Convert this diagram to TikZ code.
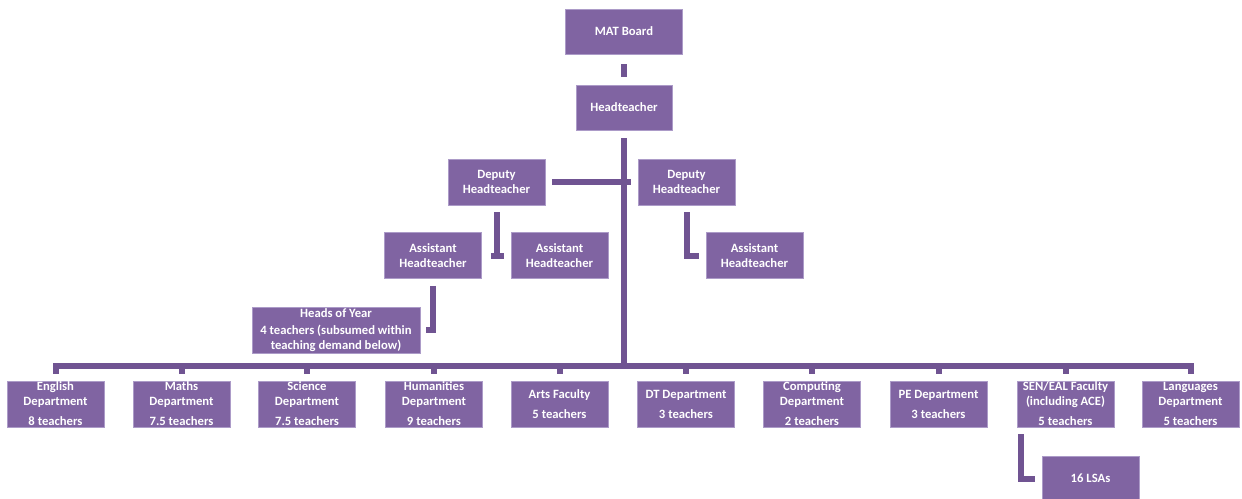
\documentclass[tikz,border=0pt]{standalone}
\usepackage{fontspec}
\setmainfont{Carlito}
\definecolor{boxfill}{RGB}{128,100,162}
\definecolor{boxline}{RGB}{172,155,200}
\definecolor{linkcol}{RGB}{112,84,146}
\begin{document}
\begin{tikzpicture}[x=0.75pt,y=-0.75pt,
  box/.style={rectangle, fill=boxfill, draw=boxline, line width=0.4pt, text=white,
    font=\fontsize{9.5}{11.25}\selectfont\bfseries, align=center, inner sep=0pt,
    minimum width=73pt, minimum height=34.5pt},
  link/.style={draw=linkcol, line width=4.5pt}]
\useasboundingbox (0,0) rectangle (1242,499);
\clip (0,0) rectangle (1242,499);
% top of the tree
\node[box, minimum width=87.75pt, minimum height=33.75pt] (mat) at (624,31.5){MAT Board};
\node[box, minimum width=72pt, minimum height=33.75pt] (head) at (624,107.5){Headteacher};
\draw[link, shorten <=7.5pt, shorten >=6pt](mat) -- (head);
\node[box] (depL) at (496.5,182){Deputy\\Headteacher};
\node[box] (depR) at (686.5,182){Deputy\\Headteacher};
\node[box] (asstA) at (433,255.5){Assistant\\Headteacher};
\node[box] (asstB) at (559.5,255.5){Assistant\\Headteacher};
\node[box] (asstC) at (754.5,255.5){Assistant\\Headteacher};
\node[box, minimum width=126pt] (hoy) at (336,330){Heads of Year\\[2pt]4 teachers (subsumed within\\teaching demand below)};
\draw[link]([xshift=5.25pt]depL.east) -- ([xshift=-5.25pt]depR.west);
\draw[link]([yshift=-5.25pt]depL.south) -- (depL.south |- asstA.east);
\draw[link]([xshift=6.75pt]asstA.east) -- ([xshift=-5.25pt]asstB.west);
\draw[link]([yshift=-5.25pt]depR.south) |- ([xshift=-5.25pt]asstC.west);
\draw[link]([yshift=-5.25pt]asstA.south) |- ([xshift=4.5pt]hoy.east);
% departments
\node[box] (eng) at (55.5,404){English\\Department\\[3.75pt]8 teachers};
\node[box] (maths) at (181.5,404){Maths\\Department\\[3.75pt]7.5 teachers};
\node[box] (sci) at (307,404){Science\\Department\\[3.75pt]7.5 teachers};
\node[box] (hum) at (434,404){Humanities\\Department\\[3.75pt]9 teachers};
\node[box] (arts) at (559.5,404){Arts Faculty\\[3.75pt]5 teachers};
\node[box] (dt) at (686,404){DT Department\\[3.75pt]3 teachers};
\node[box] (comp) at (812,404){Computing\\Department\\[3.75pt]2 teachers};
\node[box] (pe) at (938.5,404){PE Department\\[3.75pt]3 teachers};
\node[box] (sen) at (1065.5,404){SEN/EAL Faculty\\(including ACE)\\[3.75pt]5 teachers};
\node[box] (lang) at (1190.5,404){Languages\\Department\\[3.75pt]5 teachers};
\node[box, minimum height=33pt] (lsa) at (1090.5,478.5){16 LSAs};
\coordinate (bus) at (624,366);
\draw[link]([yshift=-6pt]head.south) -- (bus);
\draw[link]([yshift=5.25pt]eng.north) |- (bus) -| ([yshift=5.25pt]lang.north);
\draw[link]([yshift=5.25pt]maths.north) -- ([yshift=11.25pt]maths.north);
\draw[link]([yshift=5.25pt]sci.north) -- ([yshift=11.25pt]sci.north);
\draw[link]([yshift=5.25pt]hum.north) -- ([yshift=11.25pt]hum.north);
\draw[link]([yshift=5.25pt]arts.north) -- ([yshift=11.25pt]arts.north);
\draw[link]([yshift=5.25pt]dt.north) -- ([yshift=11.25pt]dt.north);
\draw[link]([yshift=5.25pt]comp.north) -- ([yshift=11.25pt]comp.north);
\draw[link]([yshift=5.25pt]pe.north) -- ([yshift=11.25pt]pe.north);
\draw[link]([yshift=5.25pt]sen.north) -- ([yshift=11.25pt]sen.north);
\draw[link]([xshift=3.4pt,yshift=-5.25pt]sen.south west) |- ([xshift=-5.25pt]lsa.west);
\end{tikzpicture}
\end{document}
